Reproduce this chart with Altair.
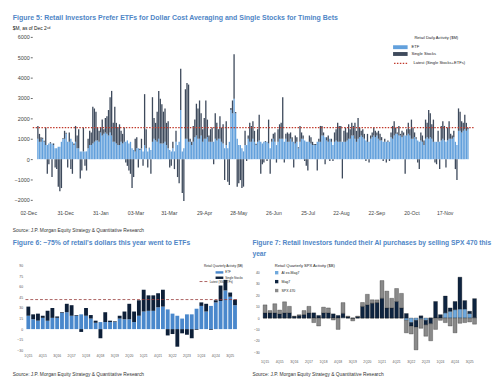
import altair as alt
import pandas as pd

FONT = "Liberation Sans"
TITLE_BLUE = "#4f86c6"
SOURCE = "Source: J.P. Morgan Equity Strategy & Quantitative Research"

# ---------------- Figure 5: daily retail activity ($M) ----------------
etf_daily = [
    1000, 850, 850, 1000, 850, 690, 690, 770, 770, 770,
    690, 530, 530, 610, 610, 850, 1000, 1000, 1240, 850,
    850, 1000, 850, 690, 850, 530, 530, 380, 380, 380,
    380, 380, 530, 690, 690, 770, 850, 920, 920, 850,
    1310, 1160, 1240, 1310, 1240, 1160, 1310, 1160, 850, 850,
    770, 690, 690, 850, 770, 850, 850, 920, 770, 850,
    530, 450, 380, 530, 530, 450, 530, 380, 690, 530,
    380, 530, 450, 850, 1000, 920, 850, 1000, 770, 770,
    770, 850, 690, 530, 450, 380, 530, 380, 850, 690,
    850, 2410, 380, 530, 1000, 1000, 850, 850, 690, 850,
    1080, 1160, 1000, 1000, 1160, 850, 1000, 1000, 1080, 850,
    850, 850, 850, 1000, 920, 1000, 1000, 850, 770, 530,
    690, 530, 850, 2410, 2250, 2960, 2250, 1000, 690, 690,
    530, 380, 690, 690, 1000, 850, 850, 1000, 850, 690,
    850, 920, 850, 770, 850, 850, 850, 770, 530, 850,
    1000, 850, 690, 850, 1000, 1000, 1000, 850, 1000, 850,
    850, 1000, 850, 850, 770, 850, 530, 850, 1000, 1000,
    920, 850, 850, 850, 770, 690, 690, 690, 850, 850,
    850, 1160, 1160, 1080, 920, 850, 1000, 850, 690, 850,
    920, 850, 850, 850, 850, 850, 850, 920, 1000, 1000,
    1160, 1160, 1000, 850, 1000, 1080, 1160, 1080, 1000, 920,
    850, 850, 1000, 1080, 1160, 1080, 1160, 1000, 920, 920,
    850, 850, 850, 850, 850, 1080, 1000, 1160, 1240, 1240,
    1160, 1160, 1080, 1160, 1160, 1160, 1240, 1160, 1000, 1000,
    1080, 1000, 920, 850, 920, 850, 690, 1000, 1080, 1000,
    1080, 1000, 850, 850, 850, 850, 850, 920, 1000, 920,
    850, 920, 1000, 1000, 1000, 1080, 850, 690, 1390, 1390,
    1310, 1390, 1470, 1390, 1470,
]
single_daily = [
    630, 390, 230, 50, 50, 860, -720, -250, 60, -880,
    80, -410, -490, -1350, -1580, -1420, 40, 390, 60, -410,
    460, -490, -720, 80, 780, 630, 940, -950, -560, 1170,
    -330, -560, 470, 700, 620, 1800, 1640, 1410, 630, 540,
    240, 780, 230, 710, 860, 1250, 1730, 2190, 930, 1720,
    1010, 860, 1020, 540, 470, 700, -170, -330, -560, -720,
    -1420, -880, 620, 550, -410, 60, 470, -330, 2500, 940,
    -410, 30, -720, 2190, 1020, 860, 1480, 2350, 2190, 1930,
    1560, 1640, 1090, 1330, -410, -330, 320, -490, 540, -880,
    -1190, 2030, -1660, -2050, 2430, 2740, 2810, 150, 160, 780,
    860, 1560, 1490, 1880, 1090, 620, 1020, 1880, 860, 310,
    620, 700, -250, 1250, 860, 470, 1100, 700, 940, -1030,
    1170, -1110, -1270, 100, 630, 2190, 60, -1350, -1190, -1030,
    -1420, -1350, 700, -90, 160, 930, 780, 860, 540, 60,
    620, 1260, -720, -250, -170, 40, -90, 1170, -720, 150,
    240, 460, -170, 620, 710, 780, 2040, -170, 240, 460,
    390, 310, 230, -410, 390, 230, 50, 780, 310, 160,
    -90, -330, -560, 310, 310, 160, 50, 50, -560, 150,
    780, 470, 150, -250, 160, 310, -90, 150, -90, 460,
    550, 930, 780, 780, -950, 540, 700, 390, 710, 470,
    620, 470, 780, 540, 1020, 470, 230, 390, 240, -90,
    390, -170, 160, 230, 390, 310, 150, 390, 320, 160,
    -90, 150, -170, 70, -90, 230, 630, 700, 310, 70,
    470, 80, 310, 150, -720, 310, 540, 310, 940, 550,
    230, 80, -170, -490, 390, 310, 230, 940, 700, 1410,
    1170, 710, 1090, -170, -250, 540, -490, 710, 860, 710,
    -410, 630, 860, 240, 160, 310, -490, -1030, 1100, 940,
    550, 390, 710, 390, 80,
]
date_labels = ["02-Dec", "31-Dec", "31-Jan", "03-Mar", "31-Mar", "29-Apr", "28-May",
               "26-Jun", "25-Jul", "22-Aug", "22-Sep", "20-Oct", "17-Nov"]
date_label_day = [-5.8, 17.7, 40.1, 62.5, 83.7, 106.2, 128, 150.4, 172.2, 193.4, 215.9, 238.3, 259.5]

# ---------------- Figure 6: quarterly retail activity ($B) ----------------
quarters = [f"{q}Q{str(y)[2:]}" for y in range(2015, 2026) for q in range(1, 5)]
etf_q = [19, 14, 12, 16, 12, 16, 16, 23, 24, 19, 19, 21, 19, 15, 9, 10, 10, 10, 10, 15, 14, 14,
         10, 19, 25, 26, 26, 31, 32, 28, 22, 19, 15, 21, 21, 29, 33, 25, 33, 38, 40, 55, 46, 34]
single_q = [13, 7, 10, 3, 14, 14, 2, 1, 12, 15, 1, -4, 11, 5, 3, -13, 14, 2, 1, 4, 11, 22,
            15, 22, 31, 22, 22, 20, 24, -9, -7, -25, -6, -8, -13, -1, 5, 11, -1, 3, 22, 15, 6, 8]

# ---------------- Figure 7: quarterly SPX activity ($B) ----------------
ai_ex_mag7 = [0, 0, 0, 0, 0, 0, 0, 0, 0, 0, 0, 0, 0, 0, 0, 0, 0.5, 0, 0, 0, 0, 0,
              0, 0, 0, 0, 0, 0, 0, -2, -4, -2, -1, -2, 0, 0, 0, 4.6, 6, 7.4, 8, 8, 4, 0.5]
mag7 = [4.6, 4.6, 4.6, 3.7, 4.6, 4.6, 1.5, 2.3, 3.1, 4.6, 4.6, 2.3, 4.6, 4.6, 3.7, 2.3, 3.7, 1.2,
        -0.5, 1.2, 10.3, 11.7, 13.1, 13.7, 17.4, 8.9, 8.9, 14.6, 8.9, 4, -3, -6, 2, -4, -5, 14.6,
        3, 14.8, 2.9, 7.2, 28, 7.4, 2, 16.6]
spx470 = [7, 2, 8, 3.3, 9.7, 5.7, 0, 0.6, 3.5, 5.7, -4, -7, 5, 4.3, -1.7, -10, 9.4, 0.5, -2, 0.5,
          3.4, 9.2, 3, 2.3, 15.6, 14.8, 8.5, 11.4, 12.8, -11, -7, -20, -8, -10, -15, -10, -2, -4,
          -7, -13, -4.6, -4, -3.4, -5.4]
spx_series = ["AI ex-Mag7", "Mag7", "SPX 470"]

# ======================= Figure 5 chart =======================
n5 = len(etf_daily)
df5 = pd.DataFrame({
    "i": list(range(n5)) * 2,
    "series": ["ETF"] * n5 + ["Single Stocks"] * n5,
    "v": etf_daily + single_daily,
    "o": [0] * n5 + [1] * n5,
})
xs5 = alt.Scale(domain=[-0.5, n5 - 0.5], nice=False, zero=False)
ys5 = alt.Scale(domain=[-2000, 6000], nice=False)
yax5 = alt.Axis(values=list(range(-2000, 6001, 1000)), title=None, grid=False, domain=False,
                tickSize=2, tickColor="#666", labelFontSize=5.6, labelColor="#444",
                labelPadding=1, format="d", labelOverlap=False)

bars5 = alt.Chart(df5).mark_bar(width=1.35).encode(
    x=alt.X("i:Q", scale=xs5, axis=None),
    y=alt.Y("v:Q", stack="zero", scale=ys5, axis=yax5),
    color=alt.Color("series:N",
                    scale=alt.Scale(domain=["ETF", "Single Stocks"], range=["#62a0dc", "#3e4a5c"]),
                    legend=alt.Legend(title=None, orient="none", legendX=379, legendY=6.6,
                                      symbolType="M-2.75,-0.5H1V0.5H-2.75Z", symbolSize=64,
                                      symbolStrokeWidth=0, labelFontSize=4.2, labelColor="#222",
                                      rowPadding=0, padding=0, labelOffset=4)),
    order=alt.Order("o:Q"),
)
latest5 = etf_daily[-1] + single_daily[-1]
rule5 = alt.Chart(pd.DataFrame({"k": ["Latest (Single Stocks+ETFs)"], "v": [latest5]})).mark_rule(
    color="#c0392b", strokeWidth=1.2).encode(
    y=alt.Y("v:Q", scale=ys5, axis=yax5),
    strokeDash=alt.StrokeDash("k:N", scale=alt.Scale(range=[[1.5, 1.5]]),
                              legend=alt.Legend(title=None, orient="none", legendX=379, legendY=22.3,
                                                symbolType="M-2.75,0H1", symbolSize=64,
                                                symbolStrokeColor="#c0392b", symbolStrokeWidth=1.2,
                                                labelFontSize=4.2, labelColor="#222", padding=0,
                                                labelOffset=4)),
)
xlab5 = alt.Chart(pd.DataFrame({"p": date_label_day, "lab": date_labels})).mark_text(
    fontSize=5.3, color="#444").encode(
    x=alt.X("p:Q", scale=xs5, axis=None), y=alt.value(182), text="lab:N")
leg5 = alt.Chart(pd.DataFrame({"t": ["Retail Daily Activity ($M)"]})).mark_text(
    fontSize=4.2, color="#222", align="left").encode(x=alt.value(394), y=alt.value(1.5), text="t:N")
src5 = alt.Chart(pd.DataFrame({"t": [SOURCE]})).mark_text(
    fontSize=5, color="#333", align="left").encode(x=alt.value(-20), y=alt.value(199), text="t:N")

top = alt.layer(bars5, rule5, xlab5, leg5, src5).properties(
    width=455, height=168,
    title=alt.TitleParams(
        text="Figure 5: Retail Investors Prefer ETFs for Dollar Cost Averaging and Single Stocks for Timing Bets",
        subtitle="$M, as of Dec 2ⁿᵈ", anchor="start", frame="bounds", fontSize=7.2,
        fontWeight="bold", color=TITLE_BLUE, subtitleFontSize=5, subtitleColor="#111",
        subtitlePadding=5, offset=4),
)

# ======================= Figure 6 chart =======================
# (plot origin is shared with Figure 5's column; the band range starts 7px further left)
nq = len(quarters)
df6 = pd.DataFrame({
    "q": quarters * 2,
    "series": ["ETF"] * nq + ["Single Stocks"] * nq,
    "v": etf_q + single_q,
    "o": [0] * nq + [1] * nq,
})
ys6 = alt.Scale(domain=[-30, 90], nice=False)
yax6 = alt.Axis(values=list(range(-30, 91, 15)), title=None, grid=False, domain=False, ticks=False,
                tickSize=0, labelFontSize=3.5, labelColor="#555", labelPadding=3,
                labelOverlap=False, offset=7)
bars6 = alt.Chart(df6).mark_bar().encode(
    x=alt.X("q:O", sort=quarters,
            scale=alt.Scale(range=[-7, 212], paddingInner=0.2, paddingOuter=0.2),
            axis=alt.Axis(values=quarters[::3], title=None, labelAngle=0, labelFontSize=3.4,
                          domain=False, ticks=False, tickSize=0, labelPadding=4, labelColor="#555")),
    y=alt.Y("v:Q", stack="zero", scale=ys6, axis=yax6),
    color=alt.Color("series:N",
                    scale=alt.Scale(domain=["ETF", "Single Stocks"], range=["#4a88cc", "#0d1f38"]),
                    legend=alt.Legend(title="Retail Quarterly Activity ($B)", titleAnchor="end",
                                      titleFontSize=3.2, titleFontWeight="normal", titleColor="#222",
                                      titlePadding=3.6, orient="none", legendX=177, legendY=-1.5,
                                      symbolType="M-4.33,-0.83H1V0.83H-4.33Z", symbolSize=9,
                                      symbolStrokeWidth=0, labelFontSize=3, labelColor="#222",
                                      rowPadding=1.5, padding=0, labelOffset=2)),
    order=alt.Order("o:Q"),
)
latest6 = etf_q[-1] + single_q[-1]
rule6 = alt.Chart(pd.DataFrame({"k": ["Latest (SS+ETFs)"], "v": [latest6]})).mark_rule(
    color="#953735", strokeWidth=0.8).encode(
    x=alt.value(-7), x2=alt.value(212),
    y=alt.Y("v:Q", scale=ys6, axis=yax6),
    strokeDash=alt.StrokeDash("k:N", scale=alt.Scale(range=[[3, 2]]),
                              legend=alt.Legend(title=None, orient="none", legendX=177, legendY=14.2,
                                                symbolType="M-4.33,0H1", symbolSize=9,
                                                symbolStrokeColor="#953735", symbolStrokeWidth=0.8,
                                                labelFontSize=3, labelColor="#222", padding=0,
                                                labelOffset=2)),
)
src6 = alt.Chart(pd.DataFrame({"t": [SOURCE]})).mark_text(
    fontSize=5, color="#333", align="left").encode(x=alt.value(-20), y=alt.value(112), text="t:N")
left = alt.layer(bars6, rule6, src6).properties(
    width=212, height=87,
    title=alt.TitleParams(text="Figure 6: ~75% of retail's dollars this year went to ETFs",
                          anchor="start", frame="bounds", fontSize=7, fontWeight="bold",
                          color=TITLE_BLUE, offset=18),
)

# ======================= Figure 7 chart =======================
# (plot top is shared with Figure 6's row; the y range starts 7px lower)
df7 = pd.DataFrame({
    "q": quarters * 3,
    "series": [spx_series[0]] * nq + [spx_series[1]] * nq + [spx_series[2]] * nq,
    "v": ai_ex_mag7 + mag7 + spx470,
    "o": [0] * nq + [1] * nq + [2] * nq,
})
ys7 = alt.Scale(domain=[-30, 40], nice=False, range=[89, 7])
bars7 = alt.Chart(df7).mark_bar(stroke="#1a1a1a", strokeWidth=0.3).encode(
    x=alt.X("q:O", sort=quarters, scale=alt.Scale(paddingInner=0.2, paddingOuter=0.2),
            axis=alt.Axis(values=quarters[::3], title=None, labelAngle=0, labelFontSize=3.4,
                          domain=False, ticks=False, tickSize=0, labelPadding=10, labelColor="#555")),
    y=alt.Y("v:Q", stack="zero", scale=ys7,
            axis=alt.Axis(values=list(range(-30, 41, 10)), title=None, grid=False, domain=False,
                          ticks=False, tickSize=0, labelFontSize=3.5, labelColor="#555",
                          labelPadding=3, labelOverlap=False)),
    color=alt.Color("series:N",
                    scale=alt.Scale(domain=spx_series, range=["#6fa8dc", "#0e2440", "#8a8a8a"]),
                    legend=alt.Legend(title="Retail Quarterly SPX Activity ($B)", titleFontSize=4.2,
                                      titleFontWeight="normal", titleColor="#222", titlePadding=3,
                                      orient="none", legendX=13, legendY=-2.1, symbolType="square",
                                      symbolSize=12, symbolStrokeWidth=0, labelFontSize=3.6,
                                      labelColor="#222", rowPadding=5.2, padding=0, labelOffset=3)),
    order=alt.Order("o:Q"),
)
src7 = alt.Chart(pd.DataFrame({"t": [SOURCE]})).mark_text(
    fontSize=5, color="#333", align="left").encode(x=alt.value(-10), y=alt.value(112), text="t:N")
right = alt.layer(bars7, src7).properties(
    width=222, height=87,
    title=alt.TitleParams(
        text=["Figure 7: Retail Investors funded their AI purchases by selling SPX 470 this", "year"],
        anchor="start", frame="bounds", fontSize=6.9, fontWeight="bold", color=TITLE_BLUE,
        lineHeight=11, offset=6.2),
)

bottom = alt.concat(left, right, columns=2, spacing=8, align="none").resolve_scale(
    color="independent", strokeDash="independent")

chart = alt.concat(top, bottom, columns=1, spacing=6, align="none").resolve_scale(
    color="independent", strokeDash="independent"
).properties(
    padding={"left": 5, "top": 0, "right": 0, "bottom": 0}
).configure(
    font=FONT, padding={"left": 5, "top": 0, "right": 0, "bottom": 0}
).configure_view(stroke=None).configure_axis(
    labelFont=FONT
).configure_legend(labelFont=FONT, titleFont=FONT).configure_title(font=FONT).configure_text(font=FONT)

chart.save("out.html", embed_options={"renderer": "svg", "actions": False})
